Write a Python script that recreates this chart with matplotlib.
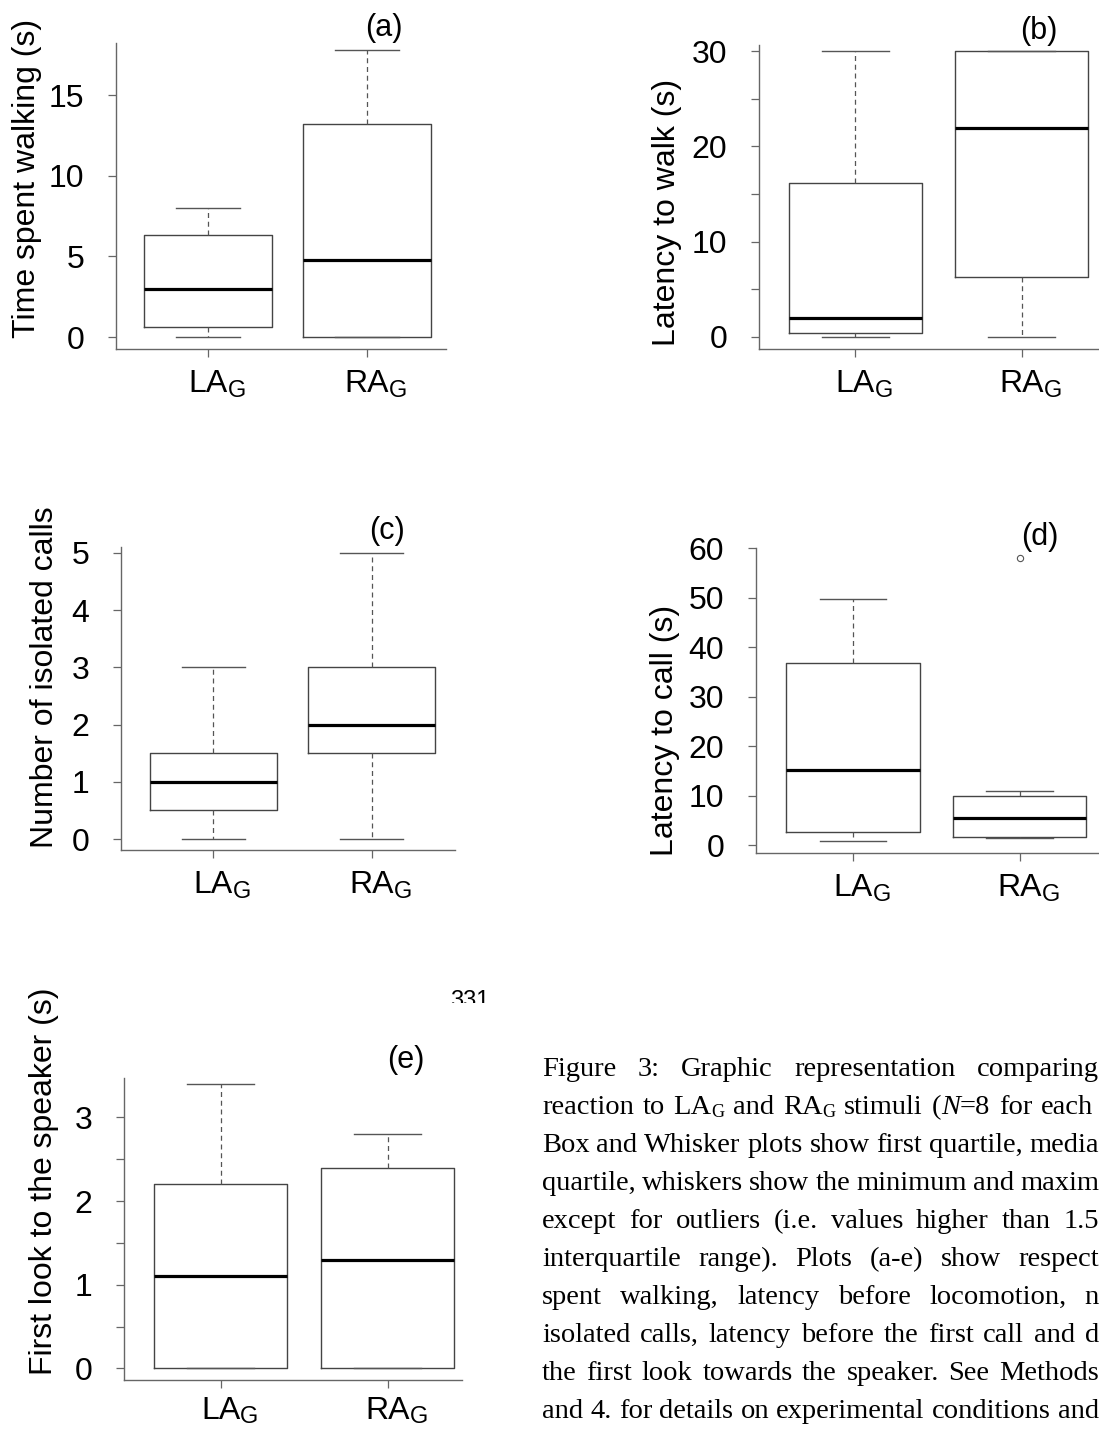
import re
import matplotlib
matplotlib.use("Agg")
import matplotlib.pyplot as plt

plt.rcParams['font.family'] = ['Liberation Sans', 'DejaVu Sans']

W, H = 1099, 1430

groups = ["LA", "RA"]

# five number summaries, one value per group (LA, RA)
walk_lo = [0.0, 0.0]
walk_q1 = [0.6, 0.0]
walk_med = [3.0, 4.8]
walk_q3 = [6.3, 13.2]
walk_hi = [8.0, 17.8]

lwalk_lo = [0.0, 0.0]
lwalk_q1 = [0.45, 6.25]
lwalk_med = [2.0, 21.9]
lwalk_q3 = [16.2, 30.0]
lwalk_hi = [30.0, 30.0]

calls_lo = [0.0, 0.0]
calls_q1 = [0.5, 1.5]
calls_med = [1.0, 2.0]
calls_q3 = [1.5, 3.0]
calls_hi = [3.0, 5.0]

lcall_lo = [0.8, 1.4]
lcall_q1 = [2.6, 1.75]
lcall_med = [15.3, 5.5]
lcall_q3 = [36.9, 9.9]
lcall_hi = [49.8, 10.9]
lcall_out = [[], [58.1]]

look_lo = [0.0, 0.0]
look_q1 = [0.0, 0.0]
look_med = [1.1, 1.3]
look_q3 = [2.2, 2.4]
look_hi = [3.4, 2.8]

caption = [
    "Figure 3: Graphic representation comparing",
    "reaction to LA_G and RA_G stimuli (*N*=8 for each",
    "Box and Whisker plots show first quartile, media",
    "quartile, whiskers show the minimum and maxim",
    "except for outliers (i.e. values higher than 1.5",
    "interquartile range). Plots (a-e) show respect",
    "spent walking, latency before locomotion, n",
    "isolated calls, latency before the first call and d",
    "the first look towards the speaker. See Methods",
    "and 4. for details on experimental conditions and",
]
caption_right = [1099, 1093, 1099, 1099, 1099, 1099, 1099, 1099, 1099, 1099]

fig = plt.figure(figsize=(W / 100, H / 100), dpi=100)
GRAY = '#666666'


def rect(left, top, right, bottom):
    return [left / W, 1 - bottom / H, (right - left) / W, (bottom - top) / H]


def panel(box, xlim, ylim, lo, q1, med, q3, hi, out, yticks, ylabs,
          ylabel, ylab_xy, tag, tag_xy, xlab_off=-31):
    ax = fig.add_axes(rect(*box))
    stats = []
    for i in range(len(groups)):
        stats.append(dict(whislo=lo[i], q1=q1[i], med=med[i], q3=q3[i],
                          whishi=hi[i], fliers=out[i] if out else []))
    ax.bxp(stats, positions=[1, 2], widths=0.8,
           boxprops=dict(color='#444444', lw=1.0),
           whiskerprops=dict(color='#555555', lw=0.9, ls=(0, (4, 3))),
           capprops=dict(color='#555555', lw=1.0),
           medianprops=dict(color='black', lw=2.3),
           flierprops=dict(marker='o', ms=4.5, mfc='none', mec='#555555', mew=0.8))
    ax.set_xlim(*xlim)
    ax.set_ylim(*ylim)
    for s in ['top', 'right']:
        ax.spines[s].set_visible(False)
    for s in ['left', 'bottom']:
        ax.spines[s].set_color(GRAY)
        ax.spines[s].set_linewidth(1.0)
    ax.set_yticks(yticks)
    ax.set_yticklabels(ylabs, fontsize=23)
    ax.set_xticks([1, 2])
    ax.set_xticklabels(['', ''])
    ax.tick_params(axis='both', direction='out', length=5.8, width=0.9, color=GRAY)
    ax.tick_params(axis='y', pad=17)

    for i, g in enumerate(groups):
        t = ax.annotate(g, xy=(i + 1, 0), xycoords=('data', 'axes fraction'),
                        xytext=(0, xlab_off), textcoords='offset points',
                        ha='center', va='baseline', fontsize=23)
        ax.annotate('G', xy=(1, 0), xycoords=t, xytext=(0, -1.8),
                    textcoords='offset points', ha='left', va='bottom', fontsize=17)

    fig.text(ylab_xy[0] / W, 1 - ylab_xy[1] / H, ylabel, rotation=90,
             rotation_mode='anchor', ha='center', va='baseline', fontsize=23)
    fig.text(tag_xy[0] / W, 1 - tag_xy[1] / H, tag, ha='center', va='center', fontsize=22)
    return ax


panel((116, 43, 446, 349), (0.421, 2.497), (-0.74, 18.23),
      walk_lo, walk_q1, walk_med, walk_q3, walk_hi, None,
      [0, 5, 10, 15], ['0', '5', '10', '15'],
      "Time spent walking (s)", (35, 178), "(a)", (384, 28))

panel((759, 45, 1100, 349), (0.420, 2.472), (-1.26, 30.63),
      lwalk_lo, lwalk_q1, lwalk_med, lwalk_q3, lwalk_hi, None,
      [0, 5, 10, 15, 20, 25, 30], ['0', '', '10', '', '20', '', '30'],
      "Latency to walk (s)", (675, 212), "(b)", (1039, 31))

panel((121, 547, 455, 850), (0.418, 2.525), (-0.19, 5.10),
      calls_lo, calls_q1, calls_med, calls_q3, calls_hi, None,
      [0, 1, 2, 3, 4, 5], ['0', '1', '2', '3', '4', '5'],
      "Number of isolated calls", (53, 677), "(c)", (387, 531))

panel((756, 548, 1100, 853), (0.418, 2.482), (-1.56, 60.1),
      lcall_lo, lcall_q1, lcall_med, lcall_q3, lcall_hi, lcall_out,
      [0, 10, 20, 30, 40, 50, 60], ['0', '10', '20', '30', '40', '50', '60'],
      "Latency to call (s)", (673, 730), "(d)", (1040, 537))

panel((124, 1078, 462, 1380), (0.421, 2.445), (-0.138, 3.472),
      look_lo, look_q1, look_med, look_q3, look_hi, None,
      [0, 0.5, 1, 1.5, 2, 2.5, 3], ['0', '', '1', '', '2', '', '3'],
      "First look to the speaker (s)", (52, 1181), "(e)", (406, 1060), xlab_off=-28)

# page number peeking out from under the panels, cut off at the bottom
axc = fig.add_axes(rect(420, 975, 520, 1003))
axc.axis('off')
pn = axc.text(0.5, 1 - (1007 - 975) / 28, "331", ha='center', va='baseline',
              fontsize=17, transform=axc.transAxes, clip_on=True)
pn.set_clip_path(axc.patch)

# justified caption, Times-like serif
renderer = fig.canvas.get_renderer()
SERIF = 'Liberation Serif'
CAP = 20.5


def runs_of(word):
    runs = []
    for piece in re.split(r'(_G|\*N\*)', word):
        if piece == '':
            continue
        if piece == '_G':
            runs.append(('G', 's'))
        elif piece == '*N*':
            runs.append(('N', 'i'))
        else:
            runs.append((piece, 'n'))
    return runs


def make_run(txt, kind):
    kw = dict(family=SERIF, fontsize=CAP, va='baseline', ha='left')
    if kind == 's':
        kw['fontsize'] = 13
    if kind == 'i':
        kw['fontstyle'] = 'italic'
    t = fig.text(0, 0, txt, **kw)
    w = t.get_window_extent(renderer).width
    return t, w


left = 542
base0 = 1076
step = 38.0
for k, line in enumerate(caption):
    words = []
    total = 0
    for word in line.split(' '):
        items = [make_run(txt, kind) + (kind,) for txt, kind in runs_of(word)]
        ww = sum(it[1] for it in items)
        words.append((items, ww))
        total += ww
    gap = (caption_right[k] - left - total) / max(len(words) - 1, 1)
    y = base0 + k * step
    x = left
    for items, ww in words:
        cx = x
        for t, w, kind in items:
            dy = 3 if kind == 's' else 0
            t.set_position((cx / W, 1 - (y + dy) / H))
            cx += w
        x += ww + gap

fig.savefig("out.png", dpi=100)
